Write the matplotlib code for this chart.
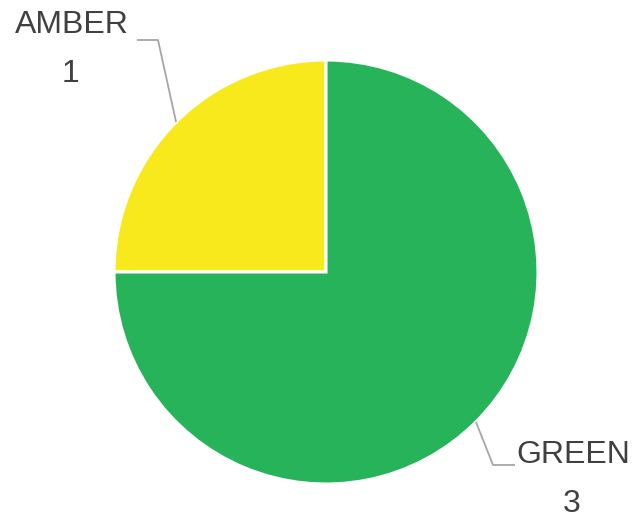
import numpy as np
import matplotlib.pyplot as plt

# Data
categories = ["AMBER", "GREEN"]
counts = [1, 3]
colors = ["#F7E91B", "#27B35A"]

W, H = 635, 527
fig = plt.figure(figsize=(W / 100, H / 100), dpi=100)
ax = fig.add_axes([0, 0, 1, 1])
ax.set_xlim(0, W)
ax.set_ylim(0, H)
ax.set_aspect("equal")
ax.axis("off")

cx, cy, r = 326, H - 272, 212
wedges = ax.pie(counts, colors=colors, startangle=90, counterclock=True,
                center=(cx, cy), radius=r,
                wedgeprops=dict(edgecolor="white", linewidth=2.2))[0]
ax.set_xlim(0, W)
ax.set_ylim(0, H)

# label positions (pixels from top-left) and leader elbows
label_pos = [(72, 25), (573, 455)]
value_pos = [(71, 74), (572, 504)]
elbows = [[(137, 40), (158, 40)], [(515, 465), (493, 465)]]

for w, name, n, lp, vp, el in zip(wedges, categories, counts, label_pos, value_pos, elbows):
    mid = np.deg2rad((w.theta1 + w.theta2) / 2)
    ax_pt = (cx + r * np.cos(mid), cy + r * np.sin(mid))
    xs = [el[0][0], el[1][0], ax_pt[0]]
    ys = [H - el[0][1], H - el[1][1], ax_pt[1]]
    ax.plot(xs, ys, color="#A6A6A6", lw=1.3, solid_capstyle="butt")
    ax.text(lp[0], H - lp[1], name, ha="center", va="center",
            fontsize=23, color="#404040", family="Liberation Sans")
    ax.text(vp[0], H - vp[1], str(n), ha="center", va="center",
            fontsize=23, color="#404040", family="Liberation Sans")

fig.savefig("out.png", dpi=100)
